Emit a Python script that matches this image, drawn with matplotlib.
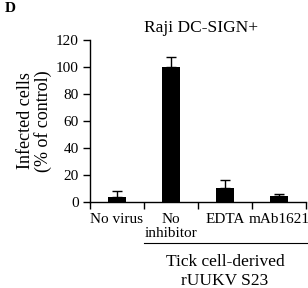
import matplotlib
matplotlib.use("Agg")
import matplotlib.pyplot as plt

categories = ["No virus", "No\ninhibitor", "EDTA", "mAb1621"]
values = [4, 100, 10.5, 4.7]
errors = [4, 7.5, 6, 1.5]
yticks = [0, 20, 40, 60, 80, 100, 120]

plt.rcParams['font.family'] = ['Liberation Serif', 'DejaVu Serif']
plt.rcParams['font.size'] = 11

fig = plt.figure(figsize=(3.08, 2.88), dpi=100)
ax = fig.add_axes([90/308, 86/288, 216/308, 162/288])

x = list(range(len(categories)))
ax.bar(x, values, width=0.32, color='black', zorder=2)
ax.errorbar(x, values, yerr=[[0]*len(errors), errors], fmt='none',
            ecolor='black', elinewidth=1, capsize=3.5, capthick=1, zorder=3)

ax.set_xlim(-0.5, len(categories) - 0.5)
ax.set_ylim(0, 120)
ax.set_yticks(yticks)
ax.set_xticks([i + 0.5 for i in range(-1, len(categories))])
ax.set_xticklabels([])
ax.set_xticks(x, minor=True)
ax.set_xticklabels(categories, minor=True, linespacing=1.1)
ax.tick_params(axis='x', which='minor', length=0, pad=8)
ax.tick_params(axis='x', which='major', direction='out', length=5, width=1)
ax.tick_params(axis='y', direction='out', length=5, width=1, pad=3)
for s in ['top', 'right']:
    ax.spines[s].set_visible(False)
for s in ['left', 'bottom']:
    ax.spines[s].set_linewidth(1)

ax.set_ylabel("Infected cells\n(% of control)", fontsize=13, linespacing=1.0, labelpad=3)
ax.set_title("Raji DC-SIGN+", fontsize=12.5, pad=6, x=(201-90)/216)

trans = ax.get_xaxis_transform()
ax.plot([0.5, 3.55], [-0.253, -0.253], color='black', lw=0.8, transform=trans, clip_on=False)
ax.text(2.0, -0.37, "Tick cell-derived", transform=trans, ha='center', va='center', fontsize=12.5)
ax.text(2.0, -0.49, "rUUKV S23", transform=trans, ha='center', va='center', fontsize=12.5)

fig.text(10/308, 1 - 8/288, "D", fontweight='bold', fontsize=11, ha='center', va='center')

fig.savefig("out.png", dpi=100)
